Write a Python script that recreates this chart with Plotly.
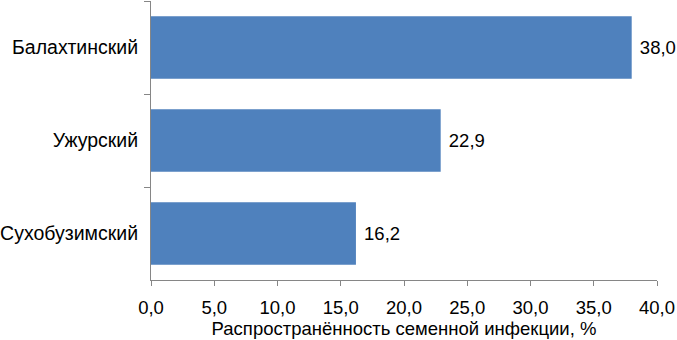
import plotly.graph_objects as go

districts = ["Балахтинский", "Ужурский", "Сухобузимский"]
prevalence = [38.0, 22.9, 16.2]
x_ticks = [0, 5, 10, 15, 20, 25, 30, 35, 40]
x_tick_labels = ["0,0", "5,0", "10,0", "15,0", "20,0", "25,0", "30,0", "35,0", "40,0"]
x_title = "Распространённость семенной инфекции, %"

fig = go.Figure(go.Bar(
    y=districts, x=prevalence, orientation="h",
    marker=dict(color="#4F81BD", line=dict(width=0)),
    text=["\u00a0" + f"{v:.1f}".replace(".", ",") for v in prevalence],
    textposition="outside", cliponaxis=False,
    textfont=dict(family="Liberation Sans, Arial", size=18.5, color="#000000"),
    width=0.67,
))

fig.update_layout(
    width=677, height=340,
    margin=dict(l=151, r=20, t=1, b=60),
    plot_bgcolor="white", paper_bgcolor="white",
    font=dict(family="Liberation Sans, Arial", size=18.5, color="#000000"),
    showlegend=False,
    bargap=0.33,
)
fig.update_xaxes(
    range=[0, 40], tickvals=x_ticks, ticktext=x_tick_labels,
    showgrid=False, zeroline=False, automargin=False,
    showline=True, linecolor="#868686", linewidth=1,
    ticks="outside", ticklen=5, tickcolor="#868686",
    ticklabelstandoff=6,
    tickfont=dict(size=18.5),
    title=dict(text=x_title, standoff=3, font=dict(size=18.5)),
)
fig.update_yaxes(
    categoryorder="array", categoryarray=districts, autorange="reversed",
    showgrid=False, zeroline=False, automargin=False,
    showline=True, linecolor="#868686", linewidth=1,
    ticks="outside", ticklen=6, tickcolor="#868686", tickson="boundaries",
    ticklabelstandoff=8,
    tickfont=dict(size=19.5),
)

fig.write_html(
    "out.html",
    config={"displayModeBar": False},
    post_script="document.body.style.margin='0';document.body.style.overflow='hidden';",
)
